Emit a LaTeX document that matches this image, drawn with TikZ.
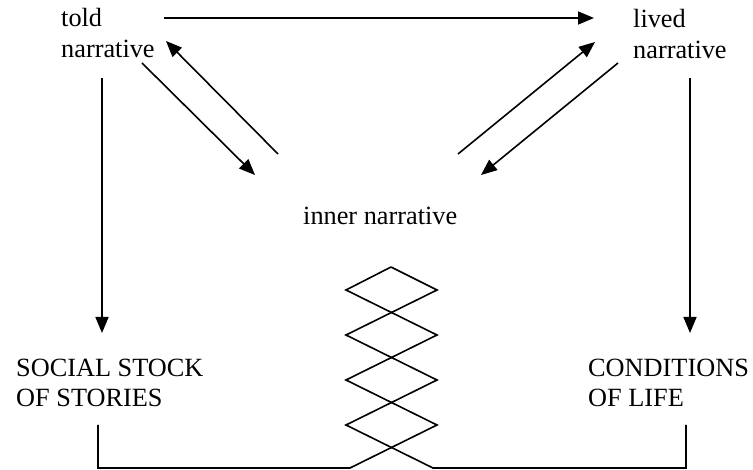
\documentclass[tikz,border=0pt]{standalone}
\usepackage{fontspec}
\setmainfont{Liberation Serif}
\usetikzlibrary{arrows.meta}
\tikzset{
  flowarrow/.style={-{Triangle[length=16pt,width=13pt]}, line width=1.6pt},
  linkline/.style={line width=1.6pt, line join=miter},
  narr/.style={inner sep=0pt, anchor=base west, align=left, font=\fontsize{26.3}{31}\selectfont}
}

\begin{document}
\begin{tikzpicture}[x=1pt, y=-1pt]
  \useasboundingbox (0,0) rectangle (753,470);
  % the five texts (base = last line)
  \node[narr] (told) at (61,58) {told\\narrative};
  \node[narr] (lived) at (633,59) {lived\\narrative};
  \node[narr] (inner) at (303,225) {inner narrative};
  \node[narr] (stock) at (16,407) {SOCIAL STOCK\\OF STORIES};
  \node[narr] (cond) at (588,407) {CONDITIONS\\OF LIFE};
  % arrow ends
  \coordinate (toldR) at (164,18);
  \coordinate (livedL) at (594,18);
  \coordinate (toldIn) at (166,41);
  \coordinate (toldOut) at (142,63);
  \coordinate (livedIn) at (595,42);
  \coordinate (livedOut) at (618,63);
  \coordinate (innerTL) at (278,154);
  \coordinate (innerTLin) at (255,175);
  \coordinate (innerTR) at (458,154);
  \coordinate (innerTRin) at (481,175);
  \coordinate (toldDown) at (102,78);
  \coordinate (stockTop) at (102,333);
  \coordinate (livedDown) at (690,78);
  \coordinate (condTop) at (690,333);
  \coordinate (stockBot) at (98,425);
  \coordinate (condBot) at (686,425);
  \coordinate (apex) at (391,267);
  % arrows
  \draw[flowarrow] (toldR) -- (livedL);
  \draw[flowarrow] (innerTL) -- (toldIn);
  \draw[flowarrow] (toldOut) -- (innerTLin);
  \draw[flowarrow] (innerTR) -- (livedIn);
  \draw[flowarrow] (livedOut) -- (innerTRin);
  \draw[flowarrow] (toldDown) -- (stockTop);
  \draw[flowarrow] (livedDown) -- (condTop);
  % the two strands twisting up to the inner narrative
  \draw[linkline] (stockBot) -- (98,468) -- (350,468) -- (437,425) -- (346,380)
    -- (437,335) -- (346,290) -- (apex);
  \draw[linkline] (condBot) -- (686,468) -- (433,468) -- (346,425) -- (437,380)
    -- (346,335) -- (437,290) -- (apex);
\end{tikzpicture}
\end{document}
